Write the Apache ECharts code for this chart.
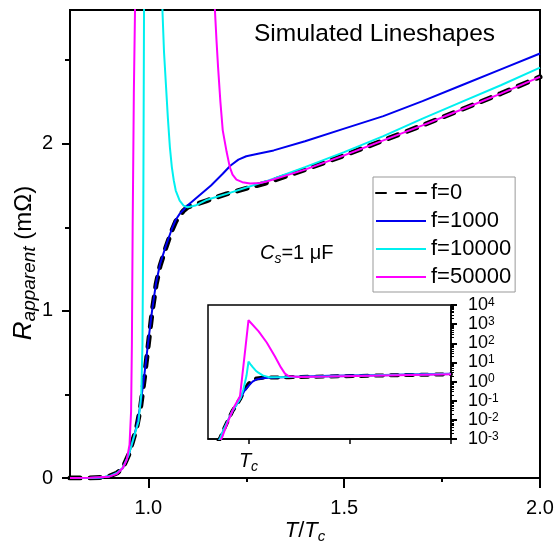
<!DOCTYPE html>
<html>
<head>
<meta charset="UTF-8">
<title>Simulated Lineshapes</title>
<script src="https://cdn.jsdelivr.net/npm/echarts@6/dist/echarts.min.js"></script>
<style>html,body{margin:0;padding:0;background:#fff}</style>
</head>
<body>
<div id="main" style="width:560px;height:543px"></div>
<script>
var FONT = 'Arial, "Liberation Sans", sans-serif';
var seriesNames = ['f=0', 'f=1000', 'f=10000', 'f=50000'];
var seriesColors = ['#000000', '#0000ee', '#00f0f0', '#ff00ff'];

// main panel: x = T/Tc, y = R apparent (mOhm)
var f0 = [[0.80,0],[0.85,0],[0.88,0.003],[0.90,0.01],[0.92,0.03],[0.935,0.06],[0.95,0.14],[0.96,0.22],
  [0.97,0.30],[0.98,0.42],[0.99,0.60],[1.00,0.80],[1.01,1.00],[1.02,1.16],[1.03,1.27],[1.045,1.38],
  [1.06,1.48],[1.07,1.535],[1.08,1.57],[1.09,1.60],[1.10,1.62],[1.15,1.66],[1.20,1.70],[1.30,1.765],
  [1.40,1.845],[1.50,1.93],[1.60,2.02],[1.70,2.11],[1.80,2.205],[1.90,2.30],[2.00,2.40]];
var f1000 = [[0.80,0],[0.85,0],[0.88,0.003],[0.90,0.01],[0.92,0.03],[0.935,0.06],[0.95,0.14],[0.96,0.22],
  [0.97,0.31],[0.98,0.44],[0.99,0.62],[1.00,0.82],[1.01,1.01],[1.02,1.17],[1.03,1.28],[1.045,1.39],
  [1.06,1.49],[1.07,1.545],[1.08,1.58],[1.09,1.605],[1.10,1.63],[1.13,1.69],[1.16,1.75],[1.19,1.82],
  [1.21,1.87],[1.23,1.905],[1.25,1.925],[1.28,1.94],[1.32,1.96],[1.40,2.015],[1.50,2.09],[1.60,2.165],
  [1.70,2.255],[1.80,2.35],[1.90,2.445],[2.00,2.54]];
var f10000 = [[0.80,0],[0.85,0],[0.88,0.003],[0.90,0.01],[0.92,0.03],[0.935,0.06],[0.95,0.14],[0.96,0.22],
  [0.97,0.30],[0.975,0.34],[0.982,0.50],[0.985,0.80],[0.987,1.50],[0.989,2.80],[0.990,3.20],[1.0,'-'],
  [1.034,3.20],[1.036,2.80],[1.040,2.55],[1.045,2.35],[1.050,2.15],[1.055,1.98],[1.060,1.86],
  [1.065,1.78],[1.070,1.72],[1.080,1.66],[1.090,1.63],[1.10,1.62],[1.12,1.63],[1.15,1.665],[1.20,1.70],
  [1.30,1.775],[1.40,1.86],[1.50,1.95],[1.60,2.045],[1.70,2.15],[1.80,2.25],[1.90,2.35],[2.00,2.455]];
var f50000 = [[0.80,0],[0.85,0.001],[0.90,0.008],[0.92,0.025],[0.935,0.06],[0.945,0.11],[0.952,0.20],
  [0.956,0.40],[0.958,0.80],[0.960,1.50],[0.963,2.30],[0.966,2.80],[0.967,3.20],[1.0,'-'],
  [1.168,3.20],[1.170,2.80],[1.174,2.62],[1.178,2.46],[1.184,2.25],[1.190,2.08],[1.200,1.95],
  [1.208,1.86],[1.215,1.815],[1.225,1.785],[1.24,1.77],[1.26,1.762],[1.285,1.765],[1.30,1.772],
  [1.40,1.845],[1.50,1.93],[1.60,2.02],[1.70,2.11],[1.80,2.205],[1.90,2.30],[2.00,2.40]];

// inset: same curves on a log scale
var insetF0 = [[0.85,0.0007],[0.86,0.0011],[0.88,0.0035],[0.90,0.01],[0.92,0.028],[0.94,0.06],[0.96,0.13],
  [0.98,0.38],[1.00,0.75],[1.02,1.2],[1.04,1.45],[1.07,1.58],[1.10,1.62],[1.20,1.70],[1.40,1.84],
  [1.60,2.02],[1.80,2.21],[2.00,2.40]];
var insetF1000 = [[0.85,0.0007],[0.86,0.0011],[0.88,0.0035],[0.90,0.01],[0.92,0.028],[0.94,0.06],[0.96,0.13],
  [0.98,0.33],[1.00,0.6],[1.02,1.0],[1.04,1.3],[1.07,1.5],[1.10,1.6],[1.20,1.75],[1.40,2.0],
  [1.60,2.16],[1.80,2.35],[2.00,2.54]];
var insetF10000 = [[0.85,0.0007],[0.86,0.0011],[0.88,0.0035],[0.90,0.01],[0.92,0.028],[0.94,0.06],[0.96,0.13],
  [0.975,0.4],[0.99,2.0],[1.00,11],[1.01,8],[1.022,5.5],[1.035,3.8],[1.047,3.0],[1.07,2.1],[1.10,1.7],
  [1.20,1.72],[1.40,1.86],[1.60,2.045],[1.80,2.25],[2.00,2.46]];
var insetF50000 = [[0.85,0.0006],[0.868,0.0011],[0.90,0.009],[0.93,0.05],[0.958,0.17],[0.97,2.3],[0.985,60],
  [1.00,1600],[1.05,420],[1.09,110],[1.13,21],[1.16,5.5],[1.18,2.6],[1.20,1.9],[1.25,1.75],[1.40,1.84],
  [1.60,2.02],[1.80,2.21],[2.00,2.40]];

var xMajor = [1.0, 1.5, 2.0];
var xMinor = [1.25, 1.75];
var yMajor = [0, 1, 2];
var yMinor = [0.5, 1.5, 2.5];
var insetXTicks = [1.0, 1.5, 2.0];
var insetDecades = [0.001, 0.01, 0.1, 1, 10, 100, 1000, 10000];
var insetMinorLog = [];
for (var n = -3; n < 4; n++) {
  for (var k = 2; k < 10; k++) insetMinorLog.push(n + Math.log10(k));
}

var mainData = [f0, f1000, f10000, f50000];
var insetData = [insetF0, insetF1000, insetF10000, insetF50000];

var myChart = echarts.init(document.getElementById('main'));

function lineStyleFor(i, inset) {
  if (i === 0) {
    return {color: '#000', width: inset ? 4 : 5, type: inset ? [7, 8] : [10, 10], cap: 'round'};
  }
  return {color: seriesColors[i], width: 2};
}

var series = [];
for (var i = 0; i < 4; i++) {
  series.push({
    name: seriesNames[i], type: 'line', xAxisIndex: 0, yAxisIndex: 0,
    data: mainData[i], showSymbol: false, symbol: 'none', smooth: false,
    color: seriesColors[i], lineStyle: lineStyleFor(i, false), clip: true, z: 2 + i
  });
}
for (var j = 0; j < 4; j++) {
  series.push({
    name: seriesNames[j], type: 'line', xAxisIndex: 2, yAxisIndex: 2,
    data: insetData[j], showSymbol: false, symbol: 'none', smooth: false,
    color: seriesColors[j], lineStyle: lineStyleFor(j, true), clip: true, z: 10 + j
  });
}

var tickStyle = {color: '#000', width: 2};

var option = {
  animation: false,
  backgroundColor: '#fff',
  textStyle: {fontFamily: FONT, color: '#000'},
  title: [
    {text: 'Simulated Lineshapes', left: 254, top: 22, padding: 0,
     textStyle: {fontSize: 24.5, fontWeight: 'normal', color: '#000', fontFamily: FONT}},
    {text: '{i|C}{s|s}{n|=1 μF}', left: 260, top: 240, padding: 0,
     textStyle: {fontWeight: 'normal', color: '#000', fontFamily: FONT,
       rich: {
         i: {fontSize: 20, fontStyle: 'italic', lineHeight: 26, fontFamily: FONT},
         s: {fontSize: 14, fontStyle: 'italic', lineHeight: 14, verticalAlign: 'bottom', fontFamily: FONT},
         n: {fontSize: 20, lineHeight: 26, fontFamily: FONT}
       }}}
  ],
  legend: {
    orient: 'vertical', left: 373, top: 177, itemWidth: 50, itemHeight: 12, itemGap: 6,
    padding: [5, 4, 4, 2], borderColor: '#999', borderWidth: 1, backgroundColor: '#fff',
    selectedMode: false, data: seriesNames, itemStyle: {opacity: 0},
    textStyle: {fontSize: 22, color: '#000', fontFamily: FONT}
  },
  grid: [
    {left: 70, top: 10, width: 470, height: 468, show: true, borderColor: '#000', borderWidth: 2,
     backgroundColor: 'transparent', outerBoundsMode: 'none'},
    {left: 208, top: 305, width: 243, height: 134, show: true, borderColor: '#000', borderWidth: 1.5,
     backgroundColor: '#fff', outerBoundsMode: 'none'}
  ],
  xAxis: [
    {gridIndex: 0, type: 'value', min: 0.8, max: 2.0, position: 'bottom',
     axisLine: {show: true, onZero: false, lineStyle: tickStyle},
     axisTick: {show: true, customValues: xMajor, length: 10, lineStyle: tickStyle},
     axisLabel: {customValues: xMajor, fontSize: 20, color: '#000', margin: 20, fontFamily: FONT,
       formatter: function (v) { return v.toFixed(1); }},
     splitLine: {show: false},
     name: '{i|T}{n|/}{i|T}{s|c}', nameLocation: 'middle', nameGap: 40, nameMoveOverlap: false,
     nameTextStyle: {rich: {
       i: {fontSize: 22, fontStyle: 'italic', lineHeight: 26, fontFamily: FONT, color: '#000'},
       n: {fontSize: 22, lineHeight: 26, fontFamily: FONT, color: '#000'},
       s: {fontSize: 15, fontStyle: 'italic', lineHeight: 15, verticalAlign: 'bottom', fontFamily: FONT, color: '#000'}
     }}},
    {gridIndex: 0, type: 'value', min: 0.8, max: 2.0, position: 'bottom',
     axisLine: {show: false}, axisLabel: {show: false}, splitLine: {show: false},
     axisTick: {show: true, customValues: xMinor, length: 4, lineStyle: tickStyle}},
    {gridIndex: 1, type: 'value', min: 0.8, max: 2.0, position: 'bottom',
     axisLine: {show: true, onZero: false, lineStyle: {color: '#000', width: 1.5}},
     axisTick: {show: true, customValues: insetXTicks, length: 5, lineStyle: {color: '#000', width: 1.5}},
     axisLabel: {customValues: [1.0], margin: 9, formatter: function () { return '{i|T}{s|c}'; },
       rich: {
         i: {fontSize: 20, fontStyle: 'italic', lineHeight: 26, fontFamily: FONT, color: '#000'},
         s: {fontSize: 14, fontStyle: 'italic', lineHeight: 14, verticalAlign: 'bottom', fontFamily: FONT, color: '#000'}
       }},
     splitLine: {show: false}}
  ],
  yAxis: [
    {gridIndex: 0, type: 'value', min: 0, max: 2.8, position: 'left',
     axisLine: {show: true, lineStyle: tickStyle},
     axisTick: {show: true, customValues: yMajor, length: 8, lineStyle: tickStyle},
     axisLabel: {customValues: yMajor, fontSize: 20, color: '#000', margin: 17, fontFamily: FONT},
     splitLine: {show: false},
     name: '{i|R}{s|apparent}{n| (mΩ)}', nameLocation: 'middle', nameGap: 31, nameMoveOverlap: false,
     nameTextStyle: {padding: [0, 38, 0, 0], rich: {
       i: {fontSize: 26, fontStyle: 'italic', lineHeight: 30, fontFamily: FONT, color: '#000'},
       s: {fontSize: 19, fontStyle: 'italic', lineHeight: 19, verticalAlign: 'bottom', fontFamily: FONT, color: '#000'},
       n: {fontSize: 24, lineHeight: 30, fontFamily: FONT, color: '#000'}
     }}},
    {gridIndex: 0, type: 'value', min: 0, max: 2.8, position: 'left',
     axisLine: {show: false}, axisLabel: {show: false}, splitLine: {show: false},
     axisTick: {show: true, customValues: yMinor, length: 5, lineStyle: tickStyle}},
    {gridIndex: 1, type: 'log', logBase: 10, min: 0.001, max: 10000, position: 'right',
     axisLine: {show: true, lineStyle: {color: '#000', width: 1.5}},
     axisTick: {show: true, customValues: insetDecades, length: 6, lineStyle: {color: '#000', width: 2}},
     axisLabel: {customValues: insetDecades, interval: 0, margin: 17, color: '#000', hideOverlap: false,
       showMinLabel: true, showMaxLabel: true,
       formatter: function (v) { return '{b|10}{p|' + Math.round(Math.log10(v)) + '}'; },
       rich: {
         b: {fontSize: 18, lineHeight: 17, fontFamily: FONT, color: '#000'},
         p: {fontSize: 12, lineHeight: 10, verticalAlign: 'top', fontFamily: FONT, color: '#000'}
       }},
     splitLine: {show: false}},
    {gridIndex: 1, type: 'value', min: -3, max: 4, position: 'right',
     axisLine: {show: false}, axisLabel: {show: false}, splitLine: {show: false},
     axisTick: {show: true, customValues: insetMinorLog, length: 3, lineStyle: {color: '#000', width: 1}}}
  ],
  series: series
};
myChart.setOption(option);
</script>
</body>
</html>
